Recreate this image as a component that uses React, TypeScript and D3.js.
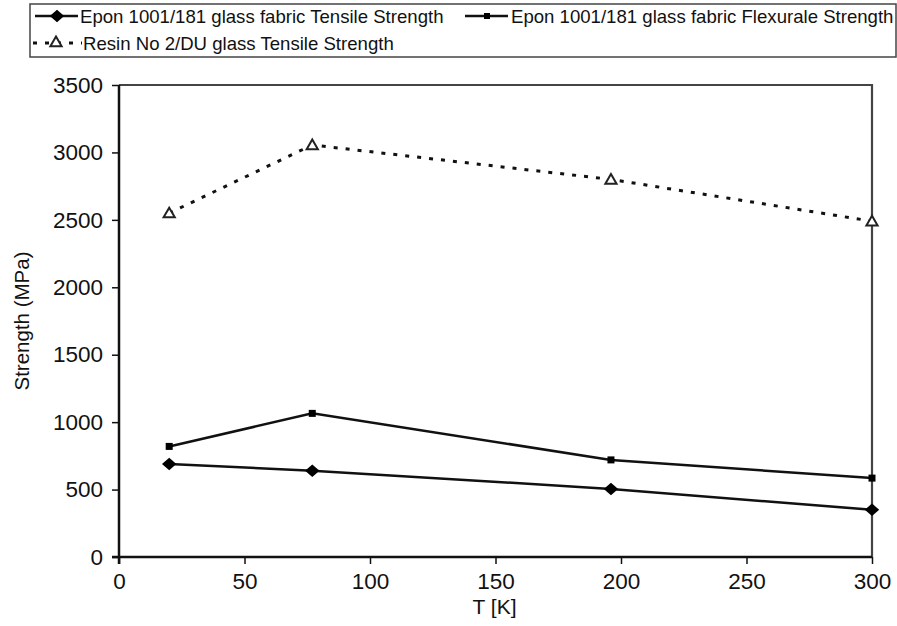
import React, { useEffect, useRef } from "react";
import * as d3 from "d3";

const temps = [20, 77, 196, 300];
const eponTensile = [690, 640, 505, 350];
const eponFlexural = [820, 1065, 720, 585];
const resinTensile = [2550, 3055, 2800, 2490];
const xTicks = [0, 50, 100, 150, 200, 250, 300];
const yTicks = [0, 500, 1000, 1500, 2000, 2500, 3000, 3500];

const width = 897;
const height = 626;
const font = "'Liberation Sans', Arial, sans-serif";

const App = () => {
  const ref = useRef<SVGSVGElement>(null);

  useEffect(() => {
    const svg = d3.select(ref.current);
    svg.selectAll("*").remove();

    const x = d3.scaleLinear().domain([0, 300]).range([119, 872]);
    const y = d3.scaleLinear().domain([0, 3500]).range([557, 85]);

    // frame top/right
    svg.append("path")
      .attr("d", `M${x(0)},${y(3500)}H${x(300)}V${y(0)}`)
      .attr("fill", "none").attr("stroke", "#444").attr("stroke-width", 2.2);

    // axes
    const gx = svg.append("g").attr("transform", `translate(0,${y(0)})`)
      .call(d3.axisBottom(x).tickValues(xTicks).tickFormat(d3.format("d")).tickSize(7).tickPadding(9));
    const gy = svg.append("g").attr("transform", `translate(${x(0)},0)`)
      .call(d3.axisLeft(y).tickValues(yTicks).tickFormat(d3.format("d")).tickSize(7).tickPadding(9));
    [gx, gy].forEach(g => {
      g.select(".domain").attr("stroke", "#111").attr("stroke-width", 2.5);
      g.selectAll(".tick line").attr("stroke", "#111").attr("stroke-width", 1.5);
      g.selectAll(".tick text").attr("font-family", font).attr("font-size", 22.5).attr("fill", "#111");
    });
    gx.select(".domain").attr("d", `M${x(0) - 7},0H${x(300)}`);
    gy.select(".domain").attr("d", `M0,${y(0) + 7}V${y(3500)}`);

    svg.append("text")
      .attr("x", x(150) - 1).attr("y", 614)
      .attr("text-anchor", "middle").attr("font-family", font).attr("font-size", 21).attr("fill", "#111")
      .text("T [K]");
    svg.append("text")
      .attr("transform", `translate(29,${(y(0) + y(3500)) / 2}) rotate(-90)`)
      .attr("text-anchor", "middle").attr("font-family", font).attr("font-size", 20.5).attr("fill", "#111")
      .text("Strength (MPa)");

    const line = d3.line<number>().x((d, i) => x(temps[i])).y(d => y(d));

    svg.append("path").datum(resinTensile).attr("d", line)
      .attr("fill", "none").attr("stroke", "#111").attr("stroke-width", 3).attr("stroke-dasharray", "4,8");
    svg.append("path").datum(eponFlexural).attr("d", line)
      .attr("fill", "none").attr("stroke", "#111").attr("stroke-width", 2.5);
    svg.append("path").datum(eponTensile).attr("d", line)
      .attr("fill", "none").attr("stroke", "#111").attr("stroke-width", 2.5);

    const diamond = d3.symbol().type(d3.symbolDiamond2).size(100)();
    const triangle = d3.symbol().type(d3.symbolTriangle2).size(90)();

    svg.append("g").selectAll("path").data(eponTensile).join("path")
      .attr("transform", (d, i) => `translate(${x(temps[i])},${y(d)}) scale(1.15,1)`)
      .attr("d", diamond).attr("fill", "#000");
    svg.append("g").selectAll("rect").data(eponFlexural).join("rect")
      .attr("x", (d, i) => x(temps[i]) - 3.5).attr("y", d => y(d) - 3.5)
      .attr("width", 7).attr("height", 7).attr("fill", "#000");
    svg.append("g").selectAll("path").data(resinTensile).join("path")
      .attr("transform", (d, i) => `translate(${x(temps[i])},${y(d) + 1})`)
      .attr("d", triangle).attr("fill", "#fff").attr("stroke", "#222").attr("stroke-width", 2);

    // legend
    const lg = svg.append("g");
    lg.append("rect").attr("x", 30).attr("y", 4).attr("width", 866).attr("height", 53)
      .attr("fill", "#fff").attr("stroke", "#444").attr("stroke-width", 1.5);
    const lt = (tx: number, ty: number, s: string) =>
      lg.append("text").attr("x", tx).attr("y", ty).attr("font-family", font)
        .attr("font-size", 18.6).attr("fill", "#111").text(s);

    lg.append("line").attr("x1", 35).attr("x2", 78).attr("y1", 16).attr("y2", 16)
      .attr("stroke", "#111").attr("stroke-width", 2.5);
    lg.append("path").attr("transform", "translate(57,16) scale(1.15,1)").attr("d", diamond).attr("fill", "#000");
    lt(80, 23, "Epon 1001/181 glass fabric Tensile Strength");

    lg.append("line").attr("x1", 465).attr("x2", 508).attr("y1", 16).attr("y2", 16)
      .attr("stroke", "#111").attr("stroke-width", 2.5);
    lg.append("rect").attr("x", 484).attr("y", 13).attr("width", 6).attr("height", 6).attr("fill", "#000");
    lt(511, 23, "Epon 1001/181 glass fabric Flexurale Strength");

    lg.append("line").attr("x1", 33).attr("x2", 82).attr("y1", 43).attr("y2", 43)
      .attr("stroke", "#111").attr("stroke-width", 3).attr("stroke-dasharray", "4,8");
    lg.append("path").attr("transform", "translate(56,43)").attr("d", triangle)
      .attr("fill", "#fff").attr("stroke", "#222").attr("stroke-width", 2);
    lt(83, 50, "Resin No 2/DU glass Tensile Strength");
  }, []);

  return (
    <svg ref={ref} width={width} height={height} viewBox={`0 0 ${width} ${height}`}
      style={{ position: "absolute", left: 0, top: 0, background: "#fff" }} />
  );
};

export default App;
